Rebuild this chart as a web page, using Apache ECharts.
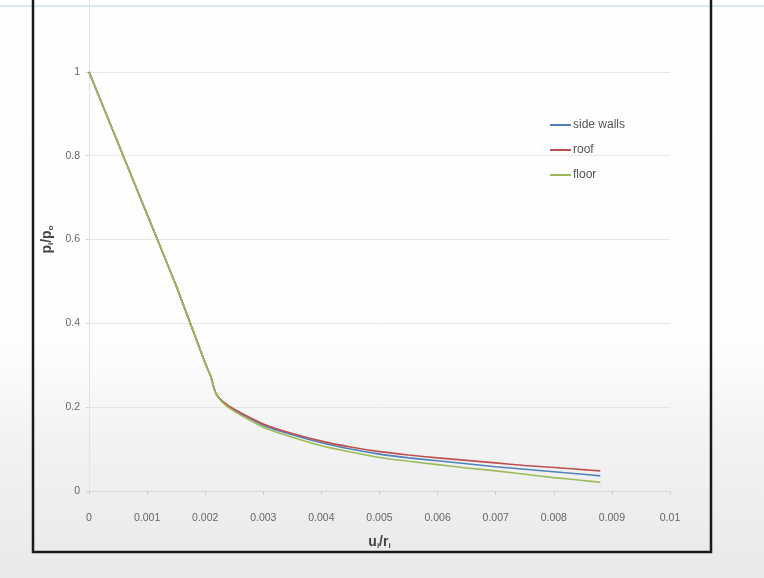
<!DOCTYPE html>
<html>
<head>
<meta charset="utf-8">
<script src="https://cdn.jsdelivr.net/npm/echarts@6/dist/echarts.min.js"></script>
<style>html,body{margin:0;padding:0;background:#fff;}#c{width:764px;height:578px;}</style>
</head>
<body>
<div id="c"></div>
<script>
const xValues = [0, 0.0005, 0.001, 0.0015, 0.002, 0.0021, 0.00215, 0.0022, 0.0023, 0.0025, 0.003, 0.0035, 0.004, 0.0045, 0.005, 0.0055, 0.006, 0.0065, 0.007, 0.0075, 0.008, 0.0085, 0.0088];
const sideWalls = [1, 0.83, 0.66, 0.49, 0.305, 0.272, 0.246, 0.229, 0.213, 0.193, 0.157, 0.134, 0.115, 0.100, 0.088, 0.079, 0.072, 0.065, 0.058, 0.052, 0.046, 0.040, 0.036];
const roof      = [1, 0.83, 0.66, 0.49, 0.305, 0.272, 0.246, 0.229, 0.214, 0.195, 0.160, 0.137, 0.119, 0.105, 0.094, 0.086, 0.079, 0.073, 0.067, 0.061, 0.056, 0.051, 0.048];
const floor     = [1, 0.83, 0.66, 0.49, 0.305, 0.272, 0.246, 0.228, 0.211, 0.190, 0.152, 0.128, 0.108, 0.093, 0.080, 0.071, 0.063, 0.055, 0.048, 0.040, 0.032, 0.025, 0.021];
const seriesNames = ['side walls', 'roof', 'floor'];
const seriesColors = ['#4f81bd', '#c0504d', '#9bbb59'];

const chart = echarts.init(document.getElementById('c'));
const pair = arr => xValues.map((x, i) => [x, arr[i]]);
const all = [sideWalls, roof, floor];

chart.setOption({
  animation: false,
  textStyle: { fontFamily: 'Liberation Sans, Arial, sans-serif' },
  graphic: [
    {
      type: 'rect', z: -10, silent: true,
      shape: { x: 0, y: 0, width: 764, height: 578 },
      style: {
        fill: new echarts.graphic.LinearGradient(0, 0, 0, 1, [
          { offset: 0, color: '#ffffff' },
          { offset: 0.6, color: '#fdfdfd' },
          { offset: 0.75, color: '#f3f3f3' },
          { offset: 1, color: '#e9e9e9' }
        ])
      }
    },
    {
      type: 'line', z: 10, silent: true,
      shape: { x1: 0, y1: 6, x2: 764, y2: 6 },
      style: { stroke: '#dde7f5', lineWidth: 2 }
    },
    {
      type: 'rect', z: 10, silent: true,
      shape: { x: 33, y: -20, width: 678, height: 572 },
      style: { fill: null, stroke: '#1a1a1a', lineWidth: 2.5 }
    }
  ],
  legend: {
    orient: 'vertical',
    left: 545, top: 114,
    itemGap: 13,
    itemWidth: 21, itemHeight: 2,
    icon: 'rect',
    textStyle: { fontSize: 12, color: '#555', padding: [0, 0, 0, -3] },
    data: seriesNames
  },
  grid: { left: 89, right: 94, top: -12, bottom: 87, outerBoundsMode: 'none', containLabel: false },
  xAxis: {
    type: 'value', min: 0, max: 0.01, interval: 0.001,
    name: '{b|u}{s|i}{b|/r}{s|i}',
    nameLocation: 'middle', nameGap: 44,
    nameTextStyle: {
      rich: {
        b: { fontSize: 14, fontWeight: 'bold', color: '#444' },
        s: { fontSize: 8, fontWeight: 'bold', color: '#444', verticalAlign: 'bottom', padding: [7, 0, 0, 0] }
      }
    },
    axisLine: { lineStyle: { color: '#d9d9d9' } },
    axisTick: { show: true, inside: false, length: 4, lineStyle: { color: '#cfcfcf' } },
    axisLabel: {
      margin: 22, fontSize: 10.5, color: '#666',
      formatter: v => String(+v.toFixed(3))
    },
    splitLine: { show: false }
  },
  yAxis: {
    type: 'value', min: 0, max: 1.2, interval: 0.2,
    name: '{b|p}{s|i}{b|/p}{s|o}',
    nameLocation: 'middle', nameGap: 30, nameRotate: 90,
    nameTextStyle: {
      rich: {
        b: { fontSize: 14, fontWeight: 'bold', color: '#444' },
        s: { fontSize: 8, fontWeight: 'bold', color: '#444', verticalAlign: 'bottom', padding: [7, 0, 0, 0] }
      }
    },
    axisLine: { show: true, lineStyle: { color: '#e3e3e3' } },
    axisTick: { show: true, length: 3, lineStyle: { color: '#cfcfcf' } },
    axisLabel: {
      margin: 9, fontSize: 10.5, color: '#666',
      showMaxLabel: false,
      formatter: v => (v > 1.1 ? '' : String(+v.toFixed(1)))
    },
    splitLine: { show: true, lineStyle: { color: '#e6e6e6' } }
  },
  series: seriesNames.map((n, i) => ({
    name: n, type: 'line', data: pair(all[i]),
    showSymbol: false, symbol: 'none', smooth: 0.15,
    lineStyle: { width: 1.6, color: seriesColors[i] },
    itemStyle: { color: seriesColors[i] }
  }))
});
</script>
</body>
</html>
